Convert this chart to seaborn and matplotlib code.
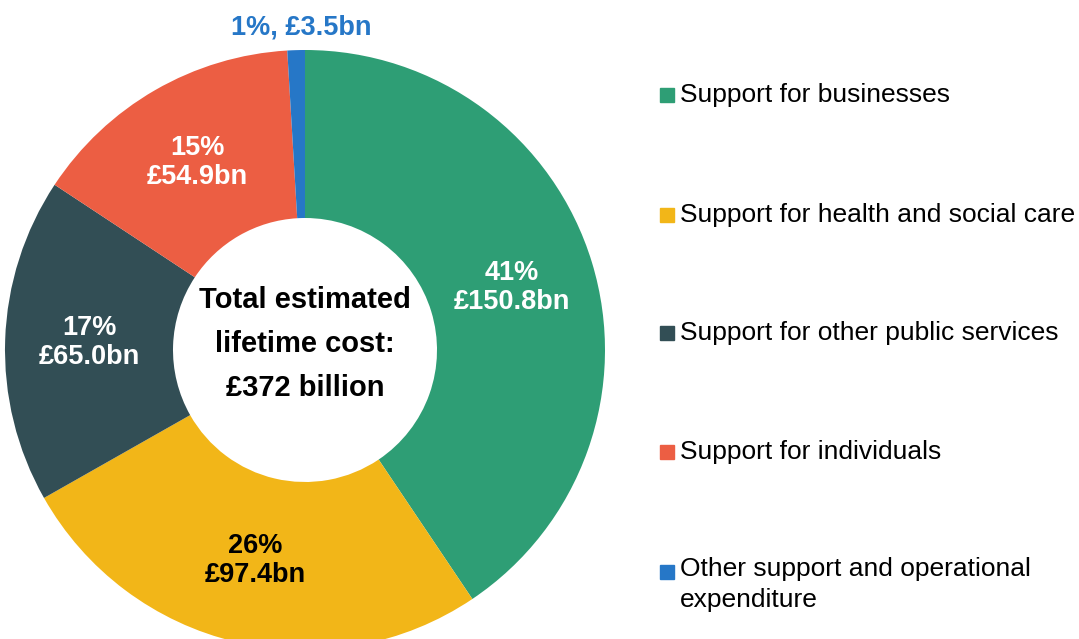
import matplotlib
matplotlib.use("Agg")
import matplotlib.pyplot as plt
from matplotlib.patches import Rectangle
import numpy as np
import seaborn as sns

categories = [
    "Support for businesses",
    "Support for health and social care",
    "Support for other public services",
    "Support for individuals",
    "Other support and operational\nexpenditure",
]
values_bn = [150.8, 97.4, 65.0, 54.9, 3.5]
pct_labels = ["41%", "26%", "17%", "15%", "1%"]
colors = ["#2E9E75", "#F2B618", "#324E55", "#EC5E43", "#2677C7"]
label_colors = ["white", "black", "white", "white", "#2677C7"]

sns.set_theme(style="white")
plt.rcParams["font.family"] = ["Liberation Sans", "DejaVu Sans"]
plt.rcParams["text.color"] = "black"

W, H = 1079, 639
fig = plt.figure(figsize=(W / 100, H / 100), dpi=100)

# pie area: centre (305, 350) px, radius 300 px
cx, cy, R = 305, 350, 300
ax = fig.add_axes([(cx - R) / W, (H - cy - R) / H, 2 * R / W, 2 * R / H])
wedges, _ = ax.pie(values_bn, colors=colors, startangle=90, counterclock=False,
                   radius=1, wedgeprops=dict(width=0.56, linewidth=0))
ax.set_xlim(-1, 1)
ax.set_ylim(-1, 1)
ax.axis("off")

for w, pct, val, lc in zip(wedges, pct_labels, values_bn, label_colors):
    mid = np.deg2rad((w.theta1 + w.theta2) / 2)
    if val < 10:
        # small slice: label sits above the ring
        x, y = -0.012, 1.075
        txt = f"{pct}, £{val:.1f}bn"
    else:
        x, y = 0.72 * np.cos(mid), 0.72 * np.sin(mid)
        txt = f"{pct}\n£{val:.1f}bn"
    ax.text(x, y, txt, ha="center", va="center", color=lc, fontsize=19.5,
            fontweight="bold", linespacing=1.15, clip_on=False)

ax.text(0, 0.02, "Total estimated\nlifetime cost:\n£372 billion", ha="center",
        va="center", fontsize=21, fontweight="bold", linespacing=1.75)

# legend drawn by hand so the squares line up with the first text line
leg_y = [95, 215, 333, 452, 572]
for lab, col, y in zip(categories, colors, leg_y):
    fig.patches.append(Rectangle((660 / W, (H - y - 7) / H), 14 / W, 14 / H,
                                 color=col, transform=fig.transFigure))
    if "\n" in lab:
        fig.text(680 / W, (H - y + 15) / H, lab, fontsize=19, ha="left",
                 va="top", linespacing=1.35)
    else:
        fig.text(680 / W, (H - y) / H, lab, fontsize=19, ha="left",
                 va="center")

fig.savefig("out.png", dpi=100)
